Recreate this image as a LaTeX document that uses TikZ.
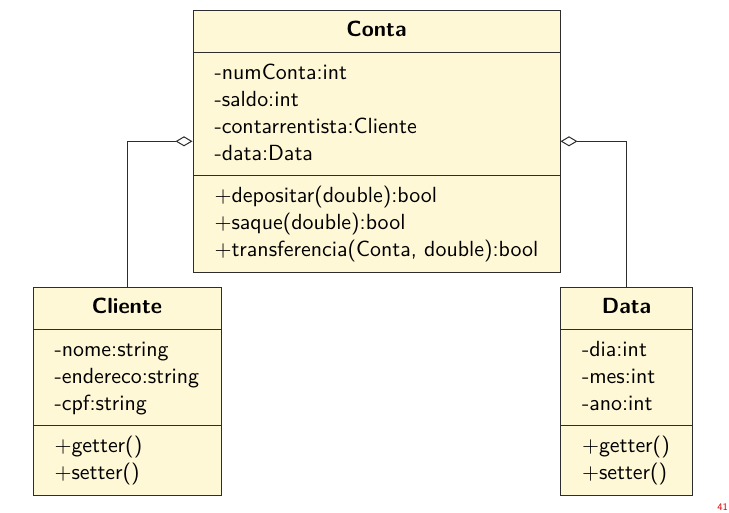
\documentclass[tikz,border=0pt]{standalone}
\usepackage{amsmath,amssymb}
\usepackage{xcolor}
\usepackage{tikz}
\usetikzlibrary{arrows.meta, positioning, shapes.multipart}

\definecolor{classfill}{RGB}{255,248,215}
\definecolor{classline}{RGB}{45,45,45}

\newcommand{\classtitle}[1]{\hbox to\hsize{\hfil\textbf{#1}\strut\hfil}}

\begin{document}
\begin{tikzpicture}[
        x=0.5pt, y=-0.5pt,
        umlclass/.style={rectangle split, rectangle split parts=3, draw=classline, fill=classfill,
            line width=0.5pt, inner xsep=10.75pt, inner ysep=3.55pt, align=left, anchor=north west,
            font=\sffamily\fontsize{10.95}{13.5}\selectfont},
        aggr/.style={-{Diamond[open, length=8.5pt, width=5pt]}, line width=0.5pt, classline},
        pagenum/.style={text=red!85!black, font=\sffamily\fontsize{5}{6}\selectfont, inner sep=0pt}
    ]
        \useasboundingbox (0,0) rectangle (729,513);

        \node[umlclass, text width=162pt] (conta) at (192.5,10) {\classtitle{Conta}
            \nodepart{two}-numConta:int\strut\\-saldo:int\strut\\-contarrentista:Cliente\strut\\-data:Data\strut
            \nodepart{three}$+$depositar(double):bool\strut\\$+$saque(double):bool\strut\\$+$transferencia(Conta, double):bool\strut};

        \node[umlclass, text width=72.5pt] (cliente) at (32.5,287) {\classtitle{Cliente}
            \nodepart{two}-nome:string\strut\\-endereco:string\strut\\-cpf:string\strut
            \nodepart{three}$+$getter()\strut\\$+$setter()\strut};

        \node[umlclass, text width=44.5pt] (data) at (560,287) {\classtitle{Data}
            \nodepart{two}-dia:int\strut\\-mes:int\strut\\-ano:int\strut
            \nodepart{three}$+$getter()\strut\\$+$setter()\strut};

        \draw[aggr] (cliente.north) |- (conta.west);
        \draw[aggr] (data.north) |- (conta.east);

        \node[pagenum, anchor=north west] (page) at (717,503) {41};
    \end{tikzpicture}
\end{document}
